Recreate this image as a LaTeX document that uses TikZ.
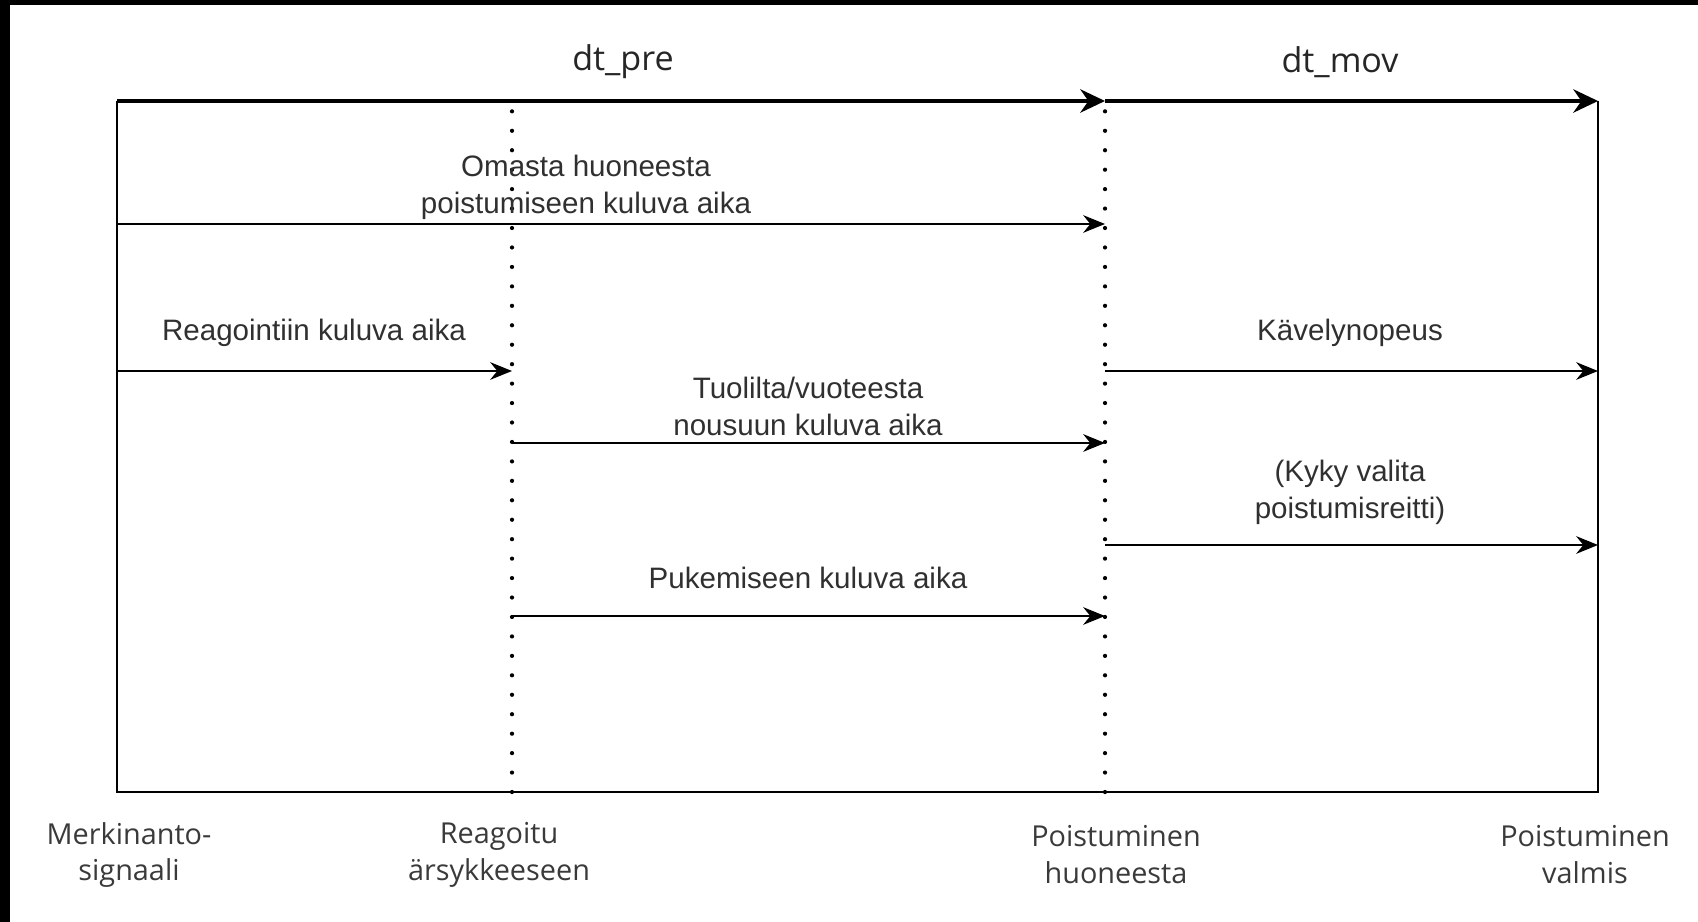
\documentclass[tikz,border=0pt]{standalone}
\usepackage{fontspec}
\setmainfont{Liberation Sans}
\newfontfamily\opensans{Open Sans}
\usetikzlibrary{arrows.meta}
\definecolor{txtgrey}{HTML}{303030}
\definecolor{evtgrey}{HTML}{3A3A3A}

\begin{document}
\begin{tikzpicture}[x=0.01cm,y=-0.01cm,
    lbl/.style={align=center,text=txtgrey,font=\fontsize{8.4}{10.5}\selectfont},
    evt/.style={align=center,text=evtgrey,font=\opensans\fontsize{8.2}{10.5}\selectfont},
    ttl/.style={text=black!85,font=\opensans\fontsize{9.7}{12}\selectfont},
    span/.style={-{Stealth[length=6.2pt,width=5pt]},line width=0.6pt},
    bigspan/.style={-{Stealth[length=7pt,width=6.6pt]},line width=1.2pt},
    guide/.style={line width=1.2pt,line cap=round,dash pattern=on 0pt off 5.53pt}]
    \useasboundingbox (0,0) rectangle (1698,922);
    % Frame of the screenshot
    \fill[black] (0,0) rectangle (1698,5);
    \fill[black] (0,0) rectangle (10,922);
    % Event columns and rows
    \coordinate (sig) at (117,792);
    \coordinate (reag) at (512,792);
    \coordinate (huone) at (1105,792);
    \coordinate (valmis) at (1598,792);
    \coordinate (top) at (0,101);
    \coordinate (r1) at (0,224);
    \coordinate (r2) at (0,371);
    \coordinate (r3) at (0,443);
    \coordinate (r4) at (0,545);
    \coordinate (r5) at (0,616);
    % Box
    \draw[line width=0.6pt] (sig |- top) -- (sig) -- (valmis) -- (valmis |- top);
    \draw[guide] (reag) -- (reag |- 0,110);
    \draw[guide] (huone) -- (huone |- 0,110);
    % Top arrows
    \draw[bigspan] (sig |- top) -- (huone |- top);
    \draw[bigspan] (huone |- top) -- (valmis |- top);
    \node[ttl] (dtpre) at (623,62) {dt\_pre};
    \node[ttl] (dtmov) at (1340,62) {dt\_mov};
    % Phase arrows
    \draw[span] (sig |- r1) -- (huone |- r1);
    \node[lbl] (omasta) at (586,187) {Omasta huoneesta\\poistumiseen kuluva aika};
    \draw[span] (sig |- r2) -- (reag |- r2);
    \node[lbl] (reagointi) at (314,333) {Reagointiin kuluva aika};
    \draw[span] (reag |- r3) -- (huone |- r3);
    \node[lbl] (nousu) at (808,406) {Tuolilta/vuoteesta\\nousuun kuluva aika};
    \draw[span] (reag |- r5) -- (huone |- r5);
    \node[lbl] (pukeminen) at (808,578) {Pukemiseen kuluva aika};
    \draw[span] (huone |- r2) -- (valmis |- r2);
    \node[lbl] (kavely) at (1350,333) {Kävelynopeus};
    \draw[span] (huone |- r4) -- (valmis |- r4);
    \node[lbl] (reitti) at (1350,492) {(Kyky valita\\poistumisreitti)};
    % Events
    \node[evt] (merkki) at (129,855) {Merkinanto-\\signaali};
    \node[evt] (reagoitu) at (499,855) {Reagoitu\\ärsykkeeseen};
    \node[evt] (poistuminen) at (1116,855) {Poistuminen\\huoneesta};
    \node[evt] (valmiskuvaus) at (1585,855) {Poistuminen\\valmis};
\end{tikzpicture}
\end{document}
